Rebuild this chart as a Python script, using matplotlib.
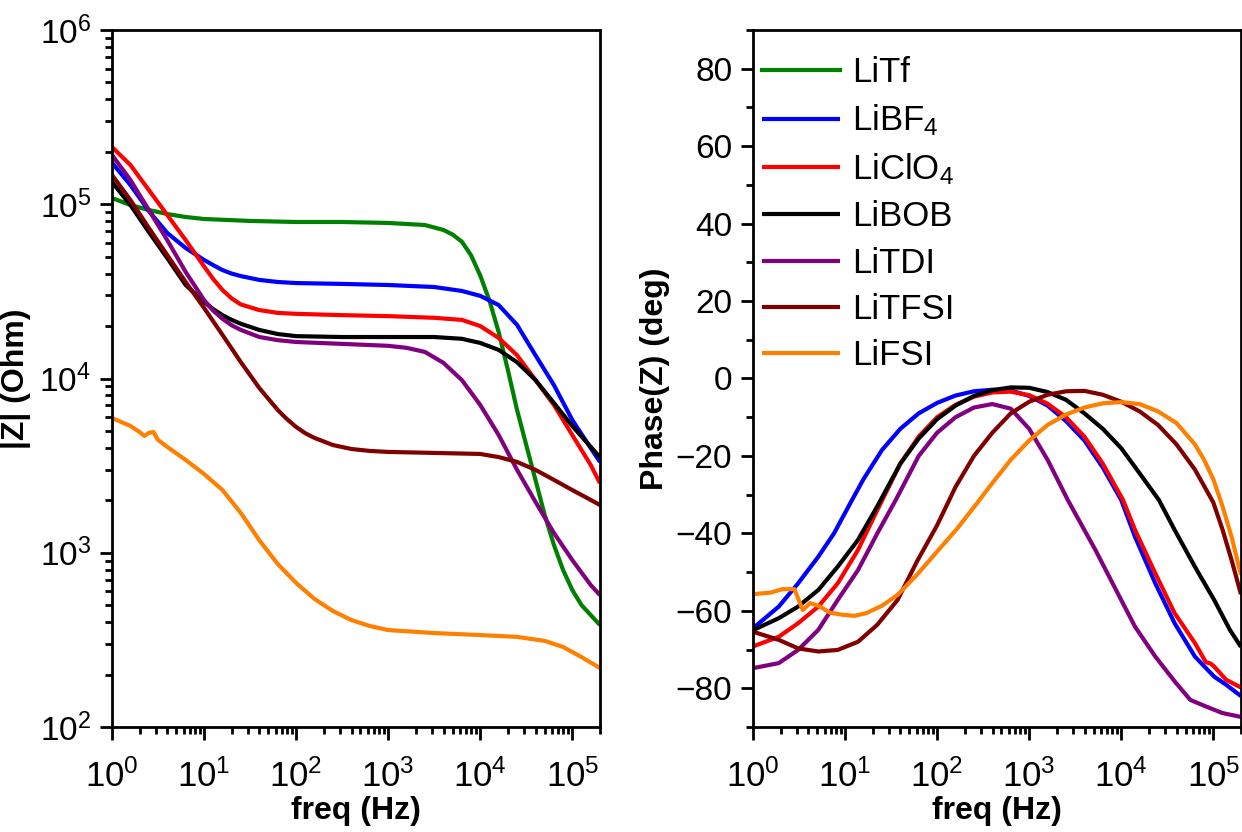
import numpy as np
import matplotlib
matplotlib.use("Agg")
import matplotlib.pyplot as plt
from matplotlib.ticker import LogLocator, MultipleLocator, NullFormatter, LogFormatterMathtext

plt.rcParams['font.family'] = ['Liberation Sans', 'DejaVu Sans']
plt.rcParams['mathtext.fontset'] = 'custom'
plt.rcParams['mathtext.rm'] = 'Liberation Sans'
plt.rcParams['mathtext.it'] = 'Liberation Sans:italic'
plt.rcParams['mathtext.bf'] = 'Liberation Sans:bold'

labels = ['LiTf', 'LiBF$_4$', 'LiClO$_4$', 'LiBOB', 'LiTDI', 'LiTFSI', 'LiFSI']
colors = ['#008000', '#0000FF', '#FF0000', '#000000', '#800080', '#800000', '#FF8000']

# ---------------- |Z| data (log10 of frequency in Hz, |Z| in Ohm) ----------------
lf_common = [0, 0.2, 0.4, 0.6, 0.8, 1.0, 1.1, 1.2, 1.3, 1.4, 1.6, 1.8, 2.0, 2.5, 3.0, 3.5,
             3.8, 4.0, 4.2, 4.4, 4.6, 4.8, 5.0, 5.2, 5.3]

lf_tf = [0, 0.2, 0.4, 0.6, 0.8, 1.0, 1.5, 2.0, 2.5, 3.0, 3.4, 3.6, 3.7, 3.8, 3.9, 4.0, 4.1,
         4.2, 4.3, 4.4, 4.5, 4.6, 4.7, 4.8, 4.9, 5.0, 5.1, 5.2, 5.3]
z_tf = [1.086e5, 9.9e4, 9.27e4, 8.79e4, 8.45e4, 8.23e4, 8.02e4, 7.91e4, 7.91e4, 7.81e4,
        7.6e4, 7.12e4, 6.7e4, 6.1e4, 5.1e4, 3.9e4, 2.8e4, 1.85e4, 1.12e4, 6.6e3, 4.15e3,
        2.62e3, 1.65e3, 1.11e3, 796, 611, 501, 439, 385]

z_bf4 = [1.73e5, 1.29e5, 9.15e4, 6.84e4, 5.61e4, 4.79e4, 4.47e4, 4.19e4, 4.0e4, 3.87e4,
         3.68e4, 3.58e4, 3.53e4, 3.49e4, 3.44e4, 3.35e4, 3.18e4, 2.98e4, 2.64e4, 2.03e4,
         1.36e4, 9.18e3, 5.78e3, 3.99e3, 3.32e3]

z_clo4 = [2.13e5, 1.68e5, 1.207e5, 8.68e4, 6.23e4, 4.4e4, 3.72e4, 3.22e4, 2.88e4, 2.66e4,
          2.47e4, 2.38e4, 2.35e4, 2.31e4, 2.28e4, 2.23e4, 2.17e4, 2.0e4, 1.71e4, 1.36e4,
          9.8e3, 7.05e3, 4.74e3, 3.19e3, 2.51e3]

z_bob = [1.34e5, 9.9e4, 6.93e4, 4.91e4, 3.44e4, 2.75e4, 2.5e4, 2.31e4, 2.17e4, 2.06e4,
         1.90e4, 1.80e4, 1.75e4, 1.73e4, 1.73e4, 1.73e4, 1.69e4, 1.60e4, 1.46e4, 1.24e4,
         9.8e3, 7.24e3, 5.34e3, 4.05e3, 3.54e3]

lf_tdi = [0, 0.2, 0.4, 0.6, 0.8, 1.0, 1.1, 1.2, 1.3, 1.4, 1.6, 1.8, 2.0, 2.5, 3.0, 3.2, 3.4,
          3.6, 3.8, 4.0, 4.2, 4.4, 4.6, 4.8, 5.0, 5.2, 5.3]
z_tdi = [1.918e5, 1.378e5, 9.27e4, 6.23e4, 4.09e4, 2.82e4, 2.45e4, 2.2e4, 2.02e4, 1.90e4,
         1.73e4, 1.66e4, 1.62e4, 1.58e4, 1.54e4, 1.50e4, 1.42e4, 1.23e4, 9.8e3, 7.05e3,
         4.74e3, 2.99e3, 1.96e3, 1.30e3, 908, 653, 572]

lf_tfsi = [0, 0.2, 0.4, 0.6, 0.8, 1.0, 1.2, 1.4, 1.6, 1.8, 1.9, 2.0, 2.1, 2.2, 2.4, 2.6,
           2.8, 3.0, 3.5, 4.0, 4.2, 4.4, 4.6, 4.8, 5.0, 5.2, 5.3]
z_tfsi = [1.472e5, 1.058e5, 7.31e4, 5.11e4, 3.58e4, 2.54e4, 1.78e4, 1.24e4, 8.82e3, 6.6e3,
          5.85e3, 5.27e3, 4.85e3, 4.56e3, 4.15e3, 3.94e3, 3.84e3, 3.79e3, 3.74e3, 3.69e3,
          3.54e3, 3.32e3, 2.99e3, 2.62e3, 2.29e3, 2.01e3, 1.88e3]

lf_fsi = [0, 0.2, 0.3, 0.35, 0.4, 0.45, 0.5, 0.6, 0.8, 1.0, 1.2, 1.4, 1.6, 1.8, 2.0, 2.2,
          2.4, 2.6, 2.8, 3.0, 3.5, 4.0, 4.4, 4.7, 4.9, 5.1, 5.3]
z_fsi = [5.93e3, 5.34e3, 4.93e3, 4.68e3, 4.87e3, 4.93e3, 4.44e3, 4.05e3, 3.41e3, 2.83e3,
         2.29e3, 1.69e3, 1.18e3, 862, 671, 543, 463, 411, 380, 360, 346, 337, 329, 312,
         288, 252, 218]

# ---------------- Phase data (log10 of frequency in Hz, phase in deg) ----------------
lfp_bf4 = [0, 0.28, 0.49, 0.71, 0.88, 1.05, 1.2, 1.4, 1.6, 1.8, 2.0, 2.2, 2.4, 2.6, 2.8,
           3.0, 3.2, 3.4, 3.6, 3.8, 4.0, 4.15, 4.37, 4.58, 4.8, 5.01, 5.14, 5.3]
ph_bf4 = [-64.5, -58.9, -52.9, -46.0, -40, -32.5, -26, -18.5, -13, -9, -6.3, -4.4, -3.3,
          -2.9, -3.1, -4.5, -7, -11, -16, -23, -31.4, -40.9, -52.9, -63.2, -71.8, -77,
          -79.1, -82]

lfp_clo4 = [0, 0.28, 0.49, 0.71, 0.92, 1.14, 1.35, 1.6, 1.8, 2.0, 2.2, 2.4, 2.6, 2.8, 3.0,
            3.2, 3.4, 3.6, 3.8, 4.02, 4.15, 4.37, 4.58, 4.8, 4.92, 4.97, 5.01, 5.14, 5.3]
ph_clo4 = [-69.2, -66.7, -63.2, -58.9, -52.9, -44.3, -34, -22, -15, -10, -6.8, -4.7, -3.6,
           -3.4, -4.3, -6.5, -10, -15, -22, -31.4, -39.1, -50.3, -60.6, -68.3, -73.3,
           -73.6, -74.4, -77.8, -79.8]

lfp_bob = [0, 0.28, 0.49, 0.71, 0.92, 1.14, 1.35, 1.6, 1.8, 2.0, 2.2, 2.4, 2.6, 2.8, 3.0,
           3.2, 3.4, 3.6, 3.8, 4.0, 4.2, 4.41, 4.58, 4.8, 5.01, 5.18, 5.3]
ph_bob = [-65, -61.9, -58.9, -54.6, -48.6, -41.7, -33, -22, -15.5, -10.5, -7, -4.5, -3,
          -2.3, -2.4, -3.5, -5.5, -9, -13, -18, -24.5, -31.4, -39.1, -48.6, -57.2, -64.9,
          -69.3]

lfp_tdi = [0, 0.28, 0.49, 0.71, 0.92, 1.14, 1.35, 1.55, 1.8, 2.0, 2.2, 2.4, 2.6, 2.8, 3.0,
           3.2, 3.42, 3.72, 3.98, 4.15, 4.37, 4.58, 4.75, 4.92, 5.1, 5.3]
ph_tdi = [-74.8, -73.5, -70.1, -64.9, -57.2, -49.5, -40, -31.4, -20, -14, -10, -7.5, -6.6,
          -7.8, -13, -21, -31.4, -44.3, -56.3, -64.1, -71.8, -78.2, -83, -84.7, -86.4,
          -87.4]

lfp_tfsi = [0, 0.28, 0.49, 0.71, 0.92, 1.14, 1.35, 1.57, 1.78, 2.0, 2.2, 2.4, 2.6, 2.8,
            3.0, 3.2, 3.4, 3.6, 3.8, 4.0, 4.2, 4.4, 4.6, 4.8, 5.0, 5.1, 5.2, 5.3]
ph_tfsi = [-65.4, -67.5, -69.7, -70.5, -70.1, -68, -63.6, -57.2, -47.3, -37.9, -28, -20,
           -14, -9, -6, -4.2, -3.3, -3.2, -4.2, -6, -8.5, -12, -17, -23.5, -32, -39, -47,
           -55.7]

lfp_fsi = [0, 0.19, 0.32, 0.45, 0.54, 0.62, 0.71, 0.84, 0.97, 1.1, 1.23, 1.4, 1.57, 1.78,
           2.0, 2.22, 2.43, 2.6, 2.8, 3.0, 3.2, 3.4, 3.6, 3.8, 4.0, 4.2, 4.4, 4.6, 4.8,
           4.9, 5.0, 5.1, 5.2, 5.3]
ph_fsi = [-55.7, -55.3, -54.4, -54.4, -59.8, -58, -58.7, -60.5, -61, -61.3, -60.6, -58.7,
          -55.9, -50.7, -44.7, -38.7, -32.3, -27, -21, -16, -12, -9.3, -7.5, -6.4, -6.1,
          -6.6, -8.5, -11.5, -17, -21, -26, -33, -41, -50.7]

mag_series = [(lf_tf, z_tf), (lf_common, z_bf4), (lf_common, z_clo4), (lf_common, z_bob),
              (lf_tdi, z_tdi), (lf_tfsi, z_tfsi), (lf_fsi, z_fsi)]
ph_series = [None, (lfp_bf4, ph_bf4), (lfp_clo4, ph_clo4), (lfp_bob, ph_bob),
             (lfp_tdi, ph_tdi), (lfp_tfsi, ph_tfsi), (lfp_fsi, ph_fsi)]

W, H = 1242, 832
fig = plt.figure(figsize=(W / 100, H / 100), dpi=100)
ax1 = fig.add_axes([112 / W, 1 - 727 / H, (600 - 112) / W, (727 - 30) / H])
ax2 = fig.add_axes([753 / W, 1 - 727 / H, (1241 - 753) / W, (727 - 30) / H])

lw = 3.0
for (lf, z), c, lab in zip(mag_series, colors, labels):
    ax1.plot(10 ** np.asarray(lf), z, color=c, lw=lw, label=lab,
             solid_joinstyle='round', solid_capstyle='butt')

legend_handles = []
for s, c, lab in zip(ph_series, colors, labels):
    if s is None:
        h, = ax2.plot([], [], color=c, lw=lw, label=lab)
    else:
        lf, ph = s
        h, = ax2.plot(10 ** np.asarray(lf), ph, color=c, lw=lw, label=lab,
                      solid_joinstyle='round', solid_capstyle='butt')
    legend_handles.append(h)

for ax in (ax1, ax2):
    ax.set_xscale('log')
    ax.set_xlim(1, 2e5)
    ax.xaxis.set_major_locator(LogLocator(base=10, numticks=10))
    ax.xaxis.set_minor_locator(LogLocator(base=10, subs=np.arange(2, 10), numticks=20))
    ax.xaxis.set_minor_formatter(NullFormatter())
    ax.xaxis.set_major_formatter(LogFormatterMathtext())
    for sp in ax.spines.values():
        sp.set_linewidth(2.0)
    ax.tick_params(which='major', direction='out', length=9, width=2.0,
                   top=False, right=False)
    ax.tick_params(which='minor', direction='out', length=5, width=2.0,
                   top=False, right=False)
    ax.tick_params(axis='x', which='major', labelsize=25, pad=14)
    ax.tick_params(axis='y', which='major', labelsize=24, pad=6)
    ax.set_xlabel('freq (Hz)', fontsize=23, fontweight='bold', labelpad=2)

ax1.set_yscale('log')
ax1.set_ylim(1e2, 1e6)
ax1.yaxis.set_major_locator(LogLocator(base=10, numticks=10))
ax1.yaxis.set_minor_locator(LogLocator(base=10, subs=np.arange(2, 10), numticks=20))
ax1.yaxis.set_minor_formatter(NullFormatter())
ax1.set_ylabel('|Z| (Ohm)', fontsize=23, fontweight='bold', labelpad=6)

ax2.set_ylim(-90, 90)
ax2.yaxis.set_major_locator(MultipleLocator(20))
ax2.yaxis.set_minor_locator(MultipleLocator(10))
ax2.set_ylabel('Phase(Z) (deg)', fontsize=23, fontweight='bold', labelpad=4)

ax2.legend(handles=legend_handles, loc='upper left', frameon=False, fontsize=25,
           handlelength=2.25, handletextpad=0.36, labelspacing=0.38,
           borderpad=0, borderaxespad=0, bbox_to_anchor=(0.018, 0.962))

fig.savefig('out.png', dpi=100)
